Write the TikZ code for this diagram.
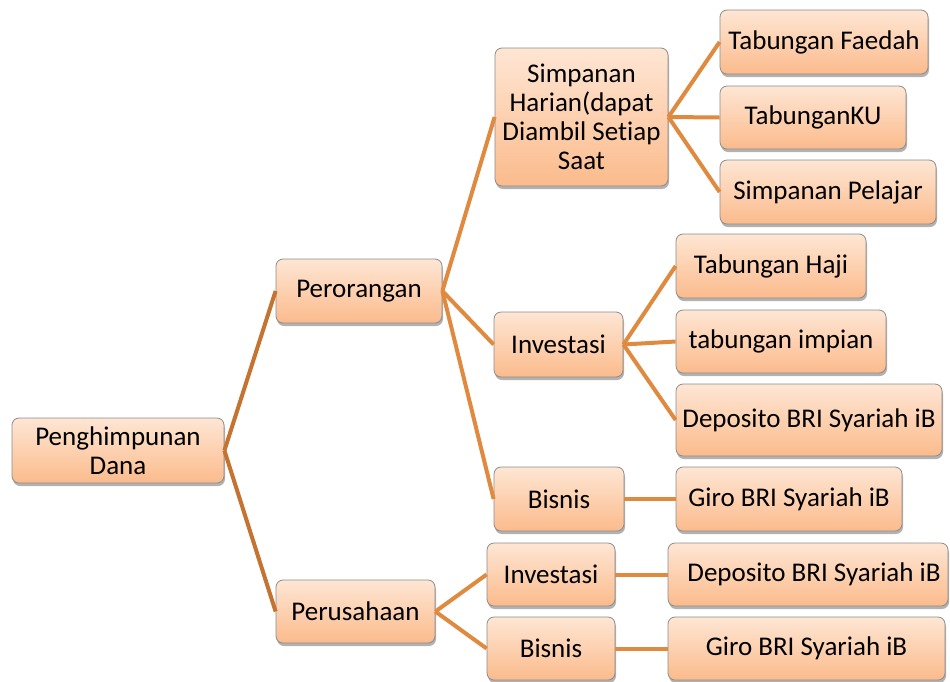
\documentclass[tikz,border=0pt]{standalone}
\usepackage{fontspec}
\setmainfont{Carlito}[RawFeature={-liga;-clig;-calt;-dlig}]
\usetikzlibrary{shadows}
\definecolor{boxtop}{HTML}{FEE6D4}
\definecolor{boxbot}{HTML}{FBBB8C}
\definecolor{boxline}{HTML}{8C8C8C}
\definecolor{linkA}{HTML}{C47330}
\definecolor{linkB}{HTML}{E08A3F}
\begin{document}
\begin{tikzpicture}[x=1pt,y=-1pt,
  box/.style={rectangle, rounded corners=7pt, draw=boxline, line width=0.8pt,
    top color=boxtop, bottom color=boxbot, inner sep=0pt, align=center,
    font=\fontsize{27}{29}\selectfont,
    drop shadow={shadow xshift=1pt, shadow yshift=-3pt, opacity=0.3, fill=black}},
  linkone/.style={draw=linkA, line width=4pt},
  linktwo/.style={draw=linkB, line width=4pt}]
\useasboundingbox (0,0) rectangle (950,681);

\node[box, minimum width=212pt, minimum height=65pt] (root) at (118,450.5) {Penghimpunan\\Dana};
\node[box, minimum width=166pt, minimum height=64pt] (pero) at (359,291) {Perorangan};
\node[box, minimum width=159pt, minimum height=63pt] (peru) at (355.5,611.5) {Perusahaan};
\node[box, minimum width=173pt, minimum height=138pt] (simp) at (581.5,117) {Simpanan\\Harian(dapat\\Diambil Setiap\\Saat};
\node[box, minimum width=129pt, minimum height=65pt] (inv1) at (558.5,344.5) {Investasi};
\node[box, minimum width=130pt, minimum height=64pt] (bis1) at (559,499) {Bisnis};
\node[box, minimum width=128pt, minimum height=63pt] (inv2) at (551,574.5) {Investasi};
\node[box, minimum width=128pt, minimum height=63pt] (bis2) at (551,648.5) {Bisnis};
\node[box, minimum width=208pt, minimum height=64pt] (tf) at (824,42) {Tabungan Faedah};
\node[box, minimum width=186pt, minimum height=63pt] (tku) at (813,117.5) {TabunganKU};
\node[box, minimum width=216pt, minimum height=64pt] (sp) at (828,192) {Simpanan Pelajar};
\node[box, minimum width=190pt, minimum height=64pt] (th) at (771,266) {Tabungan Haji};
\node[box, minimum width=210pt, minimum height=63pt] (ti) at (781,341.5) {tabungan impian};
\node[box, minimum width=266pt, minimum height=72pt] (dep1) at (809,420) {Deposito BRI Syariah iB};
\node[box, minimum width=226pt, minimum height=64pt] (giro1) at (789,499) {Giro BRI Syariah iB};
\node[box, minimum width=280pt, minimum height=63pt] (dep2) at (808,574.5) {\hspace*{12pt}Deposito BRI Syariah iB};
\node[box, minimum width=277pt, minimum height=63pt] (giro2) at (806.5,648.5) {Giro BRI Syariah iB};

\draw[linkone] (root.east) -- (pero.west);
\draw[linkone] (root.east) -- (peru.west);
\draw[linktwo] (pero.east) -- (simp.west);
\draw[linktwo] (pero.east) -- (inv1.west);
\draw[linktwo] (pero.east) -- (bis1.west);
\draw[linktwo] (simp.east) -- (tf.west);
\draw[linktwo] (simp.east) -- (tku.west);
\draw[linktwo] (simp.east) -- (sp.west);
\draw[linktwo] (inv1.east) -- (th.west);
\draw[linktwo] (inv1.east) -- (ti.west);
\draw[linktwo] (inv1.east) -- (dep1.west);
\draw[linktwo] (bis1.east) -- (giro1.west);
\draw[linktwo] (peru.east) -- (inv2.west);
\draw[linktwo] (peru.east) -- (bis2.west);
\draw[linktwo] (inv2.east) -- (dep2.west);
\draw[linktwo] (bis2.east) -- (giro2.west);
\end{tikzpicture}
\end{document}
